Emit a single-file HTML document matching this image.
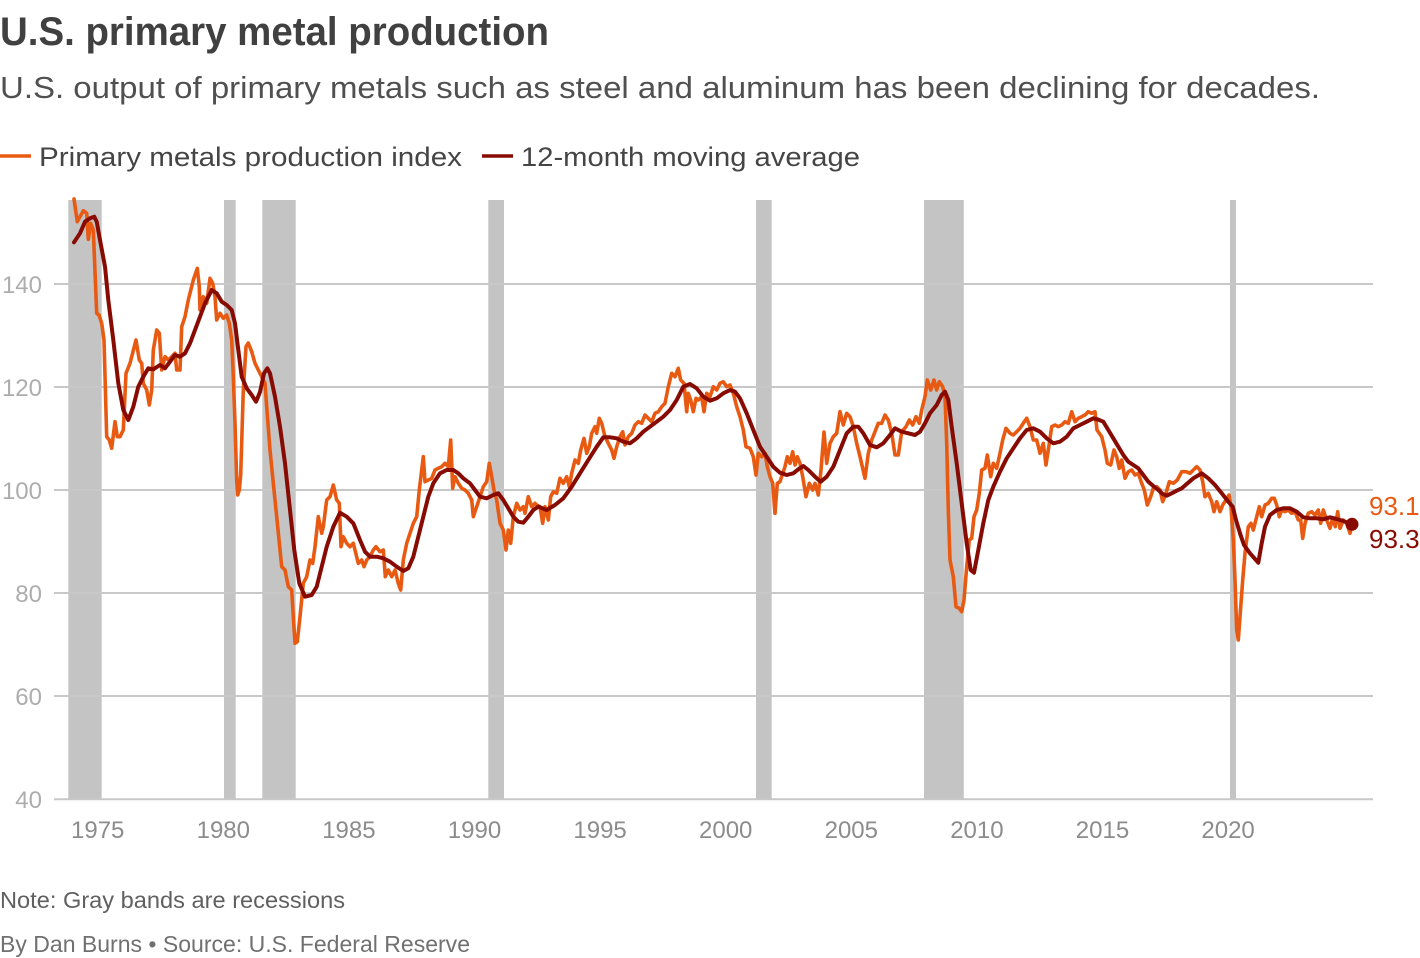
<!DOCTYPE html>
<html><head><meta charset="utf-8">
<style>
html,body{margin:0;padding:0;background:#fff;}
svg{display:block;font-family:"Liberation Sans",sans-serif;}
</style></head>
<body>
<svg width="1420" height="958" viewBox="0 0 1420 958" xmlns="http://www.w3.org/2000/svg">
<rect width="1420" height="958" fill="#fff"/>
<!-- Title -->
<text x="0" y="45" font-size="40" font-weight="bold" fill="#404040" textLength="549" lengthAdjust="spacingAndGlyphs">U.S. primary metal production</text>
<text x="0" y="98" font-size="31" fill="#505050" textLength="1320" lengthAdjust="spacingAndGlyphs">U.S. output of primary metals such as steel and aluminum has been declining for decades.</text>
<!-- Legend -->
<line x1="0" y1="156" x2="31" y2="156" stroke="#e85a12" stroke-width="3.5"/>
<text x="39" y="166" font-size="27" fill="#454545" textLength="423" lengthAdjust="spacingAndGlyphs">Primary metals production index</text>
<line x1="482" y1="156" x2="513" y2="156" stroke="#870b03" stroke-width="3.5"/>
<text x="521" y="166" font-size="27" fill="#454545" textLength="339" lengthAdjust="spacingAndGlyphs">12-month moving average</text>
<!-- Recession bands -->
<g fill="#c4c4c4">
<rect x="68.3" y="200" width="33.4" height="599"/>
<rect x="224" y="200" width="11.7" height="599"/>
<rect x="262.3" y="200" width="33.4" height="599"/>
<rect x="488.3" y="200" width="15.7" height="599"/>
<rect x="756" y="200" width="15.7" height="599"/>
<rect x="924" y="200" width="39.8" height="599"/>
<rect x="1230" y="200" width="6" height="599"/>
</g>
<!-- Gridlines -->
<g stroke="#c8c8c8" stroke-width="2">
<line x1="54" y1="284" x2="1373" y2="284"/>
<line x1="54" y1="387" x2="1373" y2="387"/>
<line x1="54" y1="490" x2="1373" y2="490"/>
<line x1="54" y1="593" x2="1373" y2="593"/>
<line x1="54" y1="696" x2="1373" y2="696"/>
<line x1="54" y1="799.3" x2="1373" y2="799.3"/>
</g>
<!-- Y labels -->
<g font-size="24" fill="#adadad" text-anchor="end">
<text x="42" y="293">140</text>
<text x="42" y="396">120</text>
<text x="42" y="499">100</text>
<text x="42" y="602">80</text>
<text x="42" y="705">60</text>
<text x="42" y="808">40</text>
</g>
<!-- X labels -->
<g font-size="24" fill="#8c8c8c" text-anchor="middle">
<text x="97.7" y="838">1975</text>
<text x="223.3" y="838">1980</text>
<text x="348.9" y="838">1985</text>
<text x="474.5" y="838">1990</text>
<text x="600.1" y="838">1995</text>
<text x="725.7" y="838">2000</text>
<text x="851.3" y="838">2005</text>
<text x="976.9" y="838">2010</text>
<text x="1102.5" y="838">2015</text>
<text x="1228.1" y="838">2020</text>
</g>
<!-- Orange series -->
<polyline fill="none" stroke="#e85a12" stroke-width="3.6" stroke-linejoin="round" stroke-linecap="round" points="74,199 77.3,221.7 83.3,210.7 86.7,213.3 88.3,239.3 90.7,223.3 93.3,230 96.7,313.3 99,315 101.7,323.3 104,340 106.7,436.7 109.3,440 111.7,448.3 115,421.7 117.3,436.7 120,436.7 123.3,430 126,373.3 130,363.3 136,340 139.3,360 141.7,363.3 143.3,383.3 146.7,390 149.3,405 151.7,390 153.3,350 156.7,330 159.3,333.3 161.7,370 165,356.7 168.3,360 171.7,356.7 175,353.3 176.7,370 180,370 181.7,326.7 185,316.7 188.3,300 193.3,280 197.3,268.3 199.3,286.7 200,310 203.3,296.7 206.7,303.3 210,278.3 212.7,283.3 215,296.7 216.7,320 220,313.3 223.3,318.3 226.7,315 229.3,323.3 231.7,340 233.3,376.7 235,423.3 236.7,480 237.7,495 239.3,490 240.7,475 243.3,390 246,346.7 248.3,343 251.7,351.7 255,363.3 258.3,370 261.7,376.7 265,383.3 266.7,406.7 270,450 273.3,483.3 276.7,516.7 281.7,566.7 285,570 288.3,586.7 291.7,590 293.3,616.7 295,643.3 297.3,641.7 300,616.7 303.3,583.3 306.7,576.7 310,560 312.7,563.3 315,546.7 318.3,516.7 321.7,533.3 323.3,526.7 326.7,500 330,496.7 333.3,485 336.7,500 339.3,503.3 341,546.7 343.3,536.7 346.7,543.3 350,546.7 353.3,543.3 358.3,563.3 361.7,560 364,566.7 366.7,560 370,556.7 373.3,550 376,546.7 380,551.7 383.3,550 385.3,576.7 388.3,570 391.7,576.7 395,570 398.3,583.3 400.7,590 403.3,560 406.7,543.3 410,533.3 413.3,523.3 416.7,516.7 419.3,490 421.7,470 423.3,456.7 425,481.7 428.3,480 431.7,478.3 435,470 438.3,468.3 441.7,466.7 445,463.3 448.3,466.7 450.7,440 452.7,488.3 455,476.7 458.3,483.3 461.7,488.3 465,490 468.3,493.3 471.7,500 473.3,516.7 476.7,506.7 480,496.7 483.3,486.7 486.7,481.7 489.3,463.3 491.7,476.7 494,490 496.7,500 500,523.3 503.3,530 506,550 508.3,530 510.7,543.3 513.3,516.7 516.7,503.3 520,510 523.3,506.7 525,513.3 528.3,496.7 531.7,506.7 535,503.3 536.7,505 540,506.7 542.7,523.3 545,506.7 548.3,520 550.7,496.7 553.3,491.7 556.7,493.3 560,478.3 563.3,483.3 566.7,476.7 569.3,486.7 571.7,473.3 575,460 578.3,463.3 580.7,450 584,438.3 586.7,453.3 589.3,446.7 591.7,433.3 595,426.7 596.7,433.3 599.3,418.3 601.7,423.3 605,436.7 608.3,443.3 611.7,450 614,458.3 616.7,446.7 620,436.7 622.7,431.7 625,445 628.3,436.7 631.7,433.3 635,425 638.3,421.7 641.7,423.3 645,415 648.3,418.3 651.7,421.7 655,413.3 658.3,411.7 661.7,406.7 665,403.3 668.3,386.7 671.7,373.3 675,376.7 678.3,368.3 680.7,380 684,383.3 686.7,411.7 688.3,393.3 690.7,400 693.3,411.7 696,398.3 698.3,400 701.7,396.7 704,411.7 706.7,393.3 710,396.7 713.3,386.7 716.7,390 720,383.3 723.3,381.7 726.7,386.7 730,385 733.3,393.3 736.7,406.7 740,416.7 743.3,430 746,446.7 750,448.3 753.3,456.7 756,475 758.3,453.3 761.7,456.7 765,453.3 767.3,466.7 770,476.7 772.7,483.3 775,513.3 777.3,483.3 780,481.7 782.7,473.3 785,466.7 787.3,456.7 790,463.3 792.7,451.7 795,465 797.3,456.7 800,463.3 802.7,476.7 806,496.7 809.3,483.3 812.7,490 815,483.3 818.3,495 821,470 824,432 826.7,463.3 830,443.3 833.3,436.7 836.7,433.3 840,411.7 843.3,425 846.7,413.3 850,416.7 853.3,426.7 856.7,443.3 860,456.7 865,478.3 868.3,453.3 871.7,440 875,431.7 878.3,423.3 881.7,423.3 885,415 888.3,420 891.7,433.3 895,455 898.3,455 901.7,431.7 906,426.7 909.3,420 912.7,425 916,416.7 919.3,423.3 921.7,410 925,396.7 927.3,380 930.7,390 934,380 936.7,390 939.3,381.7 942.7,386.7 945,396.7 946.7,443.3 948.3,510 950,560 953.3,576.7 956,606.7 959.3,608.3 961.7,611.7 964,600 966.7,566.7 969.3,540 971.7,538.3 974,516.7 976.7,510 979.3,493.3 981.7,470 985,468.3 987.3,455 990.7,476.7 993.3,463.3 996.7,468.3 1000,453.3 1002.7,440 1006,428.3 1010,433.3 1013.3,435 1016.7,431.7 1020,428.3 1023.3,423.3 1026.7,418.3 1030,426.7 1033.3,440 1036.7,440 1040,453.3 1043.3,443.3 1046,465 1049.3,443.3 1051.7,426.7 1055,425 1058.3,426.7 1061.7,425 1065,421.7 1068.3,423.3 1071.7,411.7 1075,421.7 1078.3,418.3 1081.7,416.7 1085,415 1088.3,411.7 1091.7,413.3 1095,411.7 1097,430 1101.7,436.7 1105,450 1107.3,463.3 1110.7,465 1114,450 1116.7,456.7 1119.3,468.3 1121.7,460 1125,478.3 1128.3,471.7 1131.7,470 1135,475 1138.3,473.3 1141.7,483.3 1144.3,490 1147.3,505 1150.7,496.7 1153.3,488.3 1156.7,486.7 1160,490 1162.7,501.7 1166,493.3 1169.3,481.7 1173.3,483.3 1177.3,480 1181.7,471.7 1186,471.7 1190,473.3 1193.3,470 1196.7,466.7 1200,470 1202.7,481.7 1205,496.7 1208.3,493.3 1211.7,501.7 1214,511.7 1216.7,501.7 1220,511.7 1222.7,505 1226,500 1229,495 1231,506.7 1233.3,540 1235,580 1236.7,630 1238.3,640 1240,616.7 1242.7,580 1245,553.3 1248.3,526.7 1251,523.3 1253.3,530 1256.7,516.7 1259.3,506.7 1261.7,516.7 1265,505 1268.3,503.3 1271.7,498.3 1274.3,498.3 1276.7,505 1279.3,516.7 1281.7,510 1285,511.7 1288.3,510 1291.7,513.3 1295,511.7 1298.3,520 1300.7,520 1302.7,538.3 1305,523.3 1308.3,513.3 1311.7,511.7 1315,515 1318.3,510 1320.7,523.3 1323.3,510 1326.7,520 1330,528.3 1332.7,518.3 1335.3,526.7 1337.7,511.7 1340,528.3 1343.3,520 1346.7,523.3 1350,533.3 1351.7,526.7"/>
<!-- Moving average -->
<polyline fill="none" stroke="#870b03" stroke-width="4" stroke-linejoin="round" stroke-linecap="round" points="74,242.3 80,233.3 85,221.7 90,218.3 94.3,216.7 96.7,221.7 100,240 105,266.7 108.3,300 113.3,340 118.3,383.3 123.3,410 128.3,420 133.3,406.7 138.3,386.7 143.3,376.7 148.3,368.3 153.3,369.3 160,365 165,368.3 170,361.7 175,355 180,356.7 185,353.3 190,343.3 195,330 200,316.7 205,303.3 211.7,290 216.7,293.3 221.7,301.7 226.7,305 231.7,310 235,323.3 238.3,350 241.7,376.7 246.7,388.3 251.7,395 256,401.7 260,392 264,373.3 267.3,368.3 270,373.3 275,396.7 280,426.7 285,463.3 290,510 294.3,550 299.3,583.3 305,596.7 311.7,595 316.7,586.7 321.7,566.7 326.7,546.7 333.3,526.7 340,512.7 346.7,516.7 353.3,523.3 360,540 365,551.7 370,556.7 376.7,556.7 383.3,558.3 390,561.7 396.7,566.7 403.3,571 408.3,568.3 413.3,556.7 418.3,536.7 423.3,516.7 428.3,496.7 433.3,483.3 440,473.3 446.7,470 453.3,470 458.3,473.3 463.3,478.3 470,483.3 475,490 480,496.7 486.7,498.3 493.3,495 498.3,493.3 503.3,500 508.3,508.3 513.3,516.7 518.3,521.7 523.3,522.7 528.3,516.7 533.3,510 538.3,506.7 546.7,510 555,505 563.3,498.3 571.7,486.7 580,473.3 588.3,460 596.7,446.7 603.3,437.3 610,437.3 616.7,438.3 623.3,441.7 630,443.3 636.7,438.3 643.3,431.7 650,426.7 656.7,421.7 663.3,416.7 670,410 676.7,400 683.3,386.7 690,384 696.7,388.3 703.3,396.7 710,400.7 716.7,398.3 723.3,393.3 730,390 735,391.7 740,398.3 746.7,413.3 753.3,430 760,446.7 766.7,456.7 773.3,466.7 780,472.7 786.7,475 793.3,473.3 798.3,469.3 803.3,466 808.3,470 815,476.7 820.7,481.7 826.7,476.7 833.3,466.7 840,450 846.7,433.3 853.3,426.7 858.3,426.7 863.3,433.3 870,445 876.7,447.3 883.3,443.3 890,435 895,428.3 901.7,431.7 908.3,433.3 915,435 920,431.7 925,423.3 930,413.3 936.7,405 941.7,395 945,391.7 948.3,400 951.7,426.7 956.7,463.3 961.7,503.3 966.7,543.3 970.7,570 974,572.7 978.3,550 983.3,523.3 988.3,500 993.3,486.7 1000,471.7 1006.7,458.3 1013.3,448.3 1020,438.3 1026.7,430 1033.3,428.3 1040,431.7 1046.7,438.3 1053.3,443.3 1060,441.7 1066.7,436.7 1073.3,428.3 1080,425 1086.7,421.7 1093.3,418.3 1098,419.5 1103.3,421.7 1108.3,430 1113.3,438.3 1118.3,446.7 1123.3,455 1128.3,461.7 1133.3,465 1138.3,468.3 1143.3,475 1148.3,481.7 1153.3,486 1158.3,490 1162.7,494 1166.7,495.7 1171.7,493.3 1176.7,490.7 1181.7,488.3 1186.7,484 1193.3,478.3 1201.7,473.3 1208.3,478.3 1215,485 1221.7,493.3 1228.3,501.7 1232.7,506.7 1236,520 1240,533.3 1244,545 1250,553.3 1258.3,562.7 1261.7,543.3 1265,526.7 1270,515 1276.7,510 1283.3,508.3 1290,508.3 1296.7,511.7 1303.3,517.3 1310,518.3 1316.7,518.3 1323.3,519.3 1330,517.3 1336.7,519 1343.3,521 1351.7,524.3"/>
<circle cx="1352" cy="524.3" r="6.5" fill="#870b03"/>
<!-- End labels -->
<text x="1369" y="515" font-size="26" fill="#e85a12">93.1</text>
<text x="1369" y="548" font-size="26" fill="#870b03">93.3</text>
<!-- Footer -->
<text x="0" y="908" font-size="23" fill="#606060" textLength="345" lengthAdjust="spacingAndGlyphs">Note: Gray bands are recessions</text>
<text x="0" y="952" font-size="23" fill="#707070" textLength="470" lengthAdjust="spacingAndGlyphs">By Dan Burns • Source: U.S. Federal Reserve</text>
</svg>
</body></html>
